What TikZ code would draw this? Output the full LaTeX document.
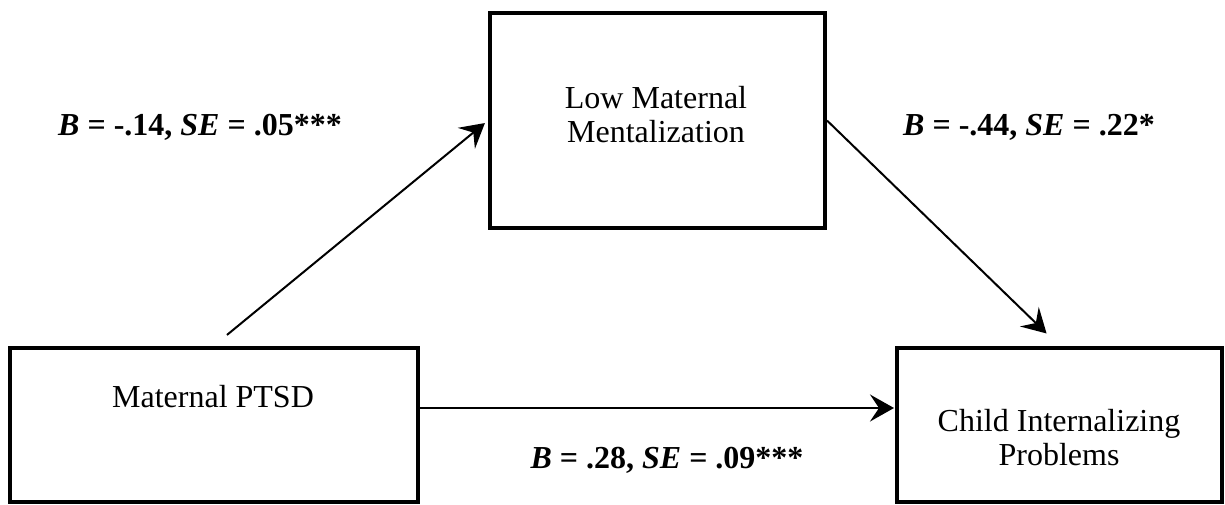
\documentclass[tikz,border=0pt]{standalone}
\usepackage{fontspec}
\setmainfont{Liberation Serif}
\usetikzlibrary{arrows.meta}

\tikzset{every path/.style={line width=1pt}}
\tikzset{varbox/.style={rectangle,draw,line width=2pt,inner sep=0pt}}
\tikzset{coef/.style={font=\fontsize{16}{19}\selectfont\bfseries,anchor=base}}

\begin{document}
\begin{tikzpicture}[x=0.5pt,y=-0.5pt,font=\fontsize{16}{17}\selectfont,
    >={Stealth[length=12pt,width=13.5pt,inset=4.5pt]}]
    \useasboundingbox (0,0) rectangle (1225,504);
    \node[varbox,minimum width=204pt,minimum height=77pt]     (ptsd) at (213.5,425) {};
    \node[varbox,minimum width=167.5pt,minimum height=107.5pt] (mental) at (657.5,120.5) {};
    \node[varbox,minimum width=162.5pt,minimum height=77pt]   (child) at (1059.5,425) {};
    \node[anchor=base] (ptsdtxt) at (213,407) {Maternal PTSD};
    \node[align=center] (mentaltxt) at (656,115) {Low Maternal\\Mentalization};
    \node[align=center] (childtxt) at (1059,438) {Child Internalizing\\Problems};
    \node[coef] (a) at (200,135) {\textit{B} = -.14, \textit{SE} = .05***};
    \node[coef] (b) at (1029,135) {\textit{B} = -.44, \textit{SE} = .22*};
    \node[coef] (c) at (667,468) {\textit{B} = .28, \textit{SE} = .09***};
    \path[->, shorten <=8.7pt, shorten >=2pt]
    (ptsd.north) edge (mental.west);
    \path[->, shorten >=9pt]
    (mental.east) edge (child.north);
    \path[->, shorten >=0.5pt]
    ([yshift=8.5pt]ptsd.east) edge ([yshift=8.5pt]child.west);
\end{tikzpicture}
\end{document}
